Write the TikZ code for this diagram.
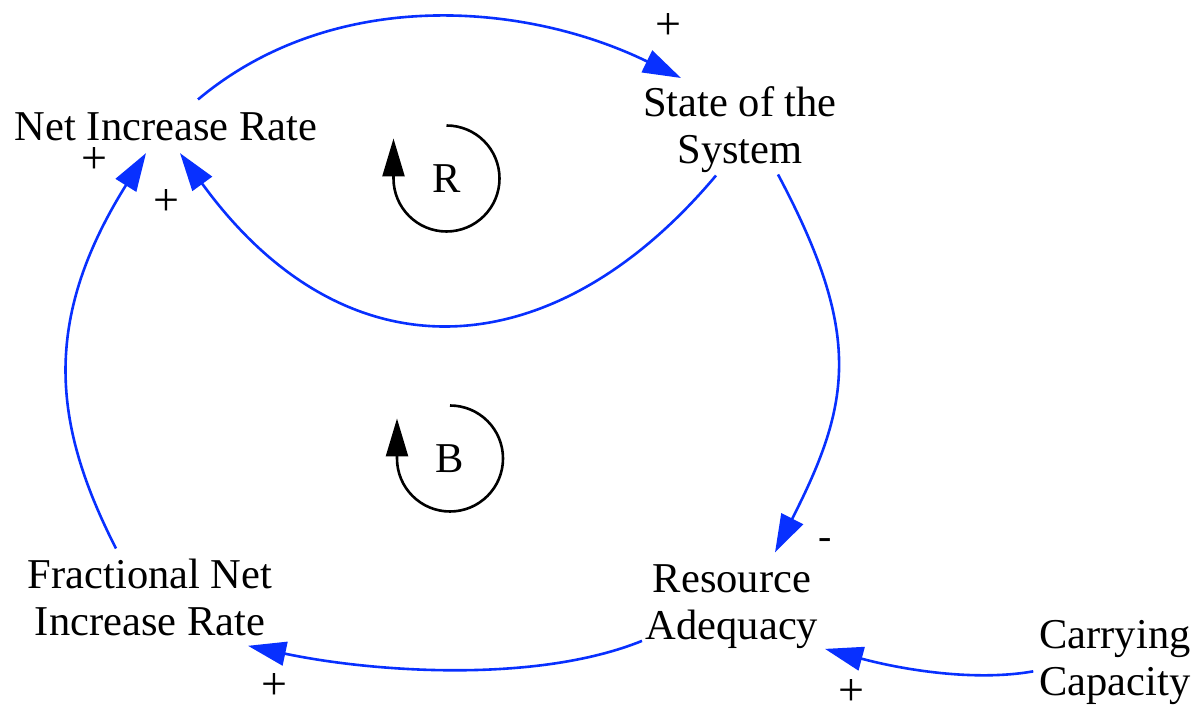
\documentclass[tikz,border=0pt]{standalone}
\usepackage{fontspec}
\setmainfont{Liberation Serif}
\usepackage{xcolor}
\usepackage{tikz}
\usetikzlibrary{arrows.meta}
\definecolor{linkblue}{RGB}{8, 48, 255}

\begin{document}
\begin{tikzpicture}[
    x=1pt, y=1pt,
    font=\fontsize{42.5}{47}\selectfont,
    var/.style={inner sep=0pt, align=center, anchor=north},
    sign/.style={inner sep=0pt, font=\fontsize{46}{50}\selectfont},
    loopmark/.style={inner sep=0pt},
    link/.style={draw=linkblue, line width=2.6pt, -{Triangle[length=38pt, width=24pt]}},
    looparr/.style={draw=black, line width=2.6pt, -{Triangle[length=38pt, width=22pt]}}
]
\useasboundingbox (0,0) rectangle (1199,706);

\node[var] (nir) at (166,593.5) {Net Increase Rate};
\node[var] (sos) at (740,620) {State of the\\System};
\node[var] (ra) at (732,141.5) {Resource\\Adequacy};
\node[var] (fnir) at (150,147.5) {Fractional Net\\Increase Rate};
\node[var] (cc) at (1115,86) {Carrying\\Capacity};

\node[loopmark] (R) at (446.5,527.5) {R};
\node[loopmark] (B) at (450,247.5) {B};

\node[sign] (p1) at (668,679) {+};
\node[sign] (p2) at (94,545) {+};
\node[sign] (p3) at (166,503) {+};
\node[sign, font=\fontsize{40}{44}\selectfont] (m4) at (825,162) {-};
\node[sign] (p5) at (274,19) {+};
\node[sign] (p6) at (851,13) {+};

\draw[link] ([xshift=32pt,yshift=13pt]nir.north) .. controls +(40:175) and +(154:175) .. ([xshift=-59pt,yshift=8pt]sos.north);
\draw[link] ([xshift=-24pt,yshift=-3pt]sos.south) .. controls +(-130:250) and +(-54:285) .. ([xshift=14pt,yshift=-12pt]nir.south);
\draw[link] ([xshift=-34pt,yshift=10pt]fnir.north) .. controls +(117:139) and +(-122:198) .. ([xshift=-20pt,yshift=-12pt]nir.south);
\draw[link] ([xshift=38pt,yshift=-2pt]sos.south) .. controls +(-62:181) and +(63:168) .. ([xshift=43pt,yshift=12pt]ra.north);
\draw[link] ([xshift=-90pt,yshift=8pt]ra.south) .. controls +(202:116) and +(-12:124) .. ([xshift=98pt,yshift=-10pt]fnir.south);
\draw[link] ([xshift=-6pt,yshift=-9pt]cc.west) .. controls +(190:60) and +(-15:80) .. ([xshift=93pt]ra.south);

\draw[looparr] ([yshift=53pt]R.center) arc[start angle=90, end angle=-180, radius=53pt] -- ++(0,40);
\draw[looparr] ([yshift=53pt]B.center) arc[start angle=90, end angle=-180, radius=53pt] -- ++(0,40);
\end{tikzpicture}
\end{document}
